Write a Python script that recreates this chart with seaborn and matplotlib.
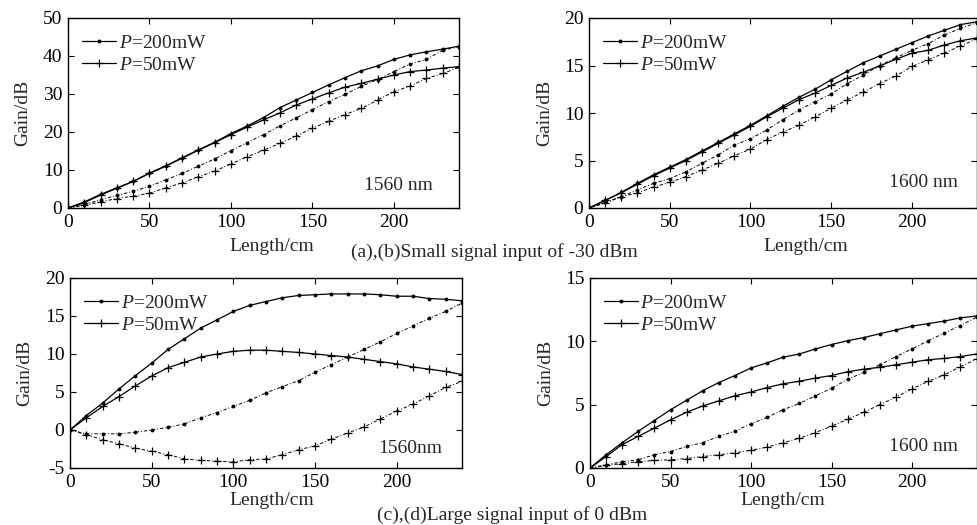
import matplotlib
matplotlib.use("Agg")
import matplotlib.pyplot as plt
import seaborn as sns
import pandas as pd
from matplotlib.lines import Line2D

# ---------------- data ----------------
length_cm = [0, 10, 20, 30, 40, 50, 60, 70, 80, 90, 100, 110, 120,
             130, 140, 150, 160, 170, 180, 190, 200, 210, 220, 230, 240]

# (a) 1560 nm, small signal (-30 dBm)
a_solid_200 = [0, 1.6, 3.6, 5.3, 7.0, 9.2, 11.1, 13.2, 15.3, 17.3, 19.6, 21.6, 23.8,
               26.4, 28.4, 30.4, 32.4, 34.3, 36.1, 37.4, 39.1, 40.3, 41.1, 41.8, 42.6]
a_solid_50 = [0, 1.4, 3.4, 5.2, 7.0, 9.1, 11.0, 13.1, 15.2, 17.2, 19.3, 21.3, 23.2,
              25.0, 27.1, 28.7, 30.3, 31.8, 32.8, 33.9, 35.0, 35.9, 36.3, 36.8, 37.2]
a_dash_200 = [0, 0.9, 2.2, 3.3, 4.4, 5.7, 7.4, 9.1, 11.0, 12.9, 15.1, 17.2, 19.3,
              21.6, 23.7, 25.9, 28.0, 29.9, 32.0, 33.8, 35.9, 37.9, 39.1, 41.5, 42.5]
a_dash_50 = [0, 0.7, 1.6, 2.5, 3.1, 3.9, 5.3, 6.6, 8.2, 9.7, 11.6, 13.5, 15.2,
             17.0, 18.9, 21.0, 22.8, 24.6, 26.2, 28.4, 30.6, 32.1, 34.1, 35.4, 37.0]

# (b) 1600 nm, small signal (-30 dBm)
b_solid_200 = [0, 0.8, 1.65, 2.6, 3.5, 4.3, 5.1, 6.0, 6.9, 7.8, 8.7, 9.7, 10.7,
               11.65, 12.5, 13.5, 14.4, 15.3, 16.0, 16.7, 17.4, 18.1, 18.7, 19.3, 19.6]
b_solid_50 = [0, 0.8, 1.6, 2.5, 3.4, 4.2, 5.0, 5.9, 6.8, 7.7, 8.6, 9.6, 10.5,
              11.4, 12.1, 12.9, 13.7, 14.3, 14.95, 15.65, 16.3, 16.6, 17.15, 17.6, 17.9]
b_dash_200 = [0, 0.6, 1.2, 1.9, 2.6, 3.1, 3.8, 4.7, 5.6, 6.6, 7.3, 8.2, 9.3,
              10.3, 11.2, 12.0, 13.1, 14.0, 15.0, 15.8, 16.6, 17.3, 18.2, 18.9, 19.5]
b_dash_50 = [0, 0.5, 1.2, 1.6, 2.2, 2.7, 3.3, 4.0, 4.7, 5.5, 6.2, 7.2, 8.0,
             8.7, 9.6, 10.5, 11.4, 12.2, 13.1, 13.9, 14.9, 15.6, 16.3, 17.05, 17.8]

# (c) 1560 nm, large signal (0 dBm)
c_solid_200 = [0, 1.9, 3.55, 5.4, 7.15, 8.8, 10.6, 12.0, 13.4, 14.5, 15.6, 16.4, 16.9,
               17.4, 17.7, 17.8, 17.9, 17.9, 17.9, 17.8, 17.6, 17.6, 17.3, 17.2, 17.0]
c_solid_50 = [0, 1.6, 3.1, 4.4, 5.8, 7.1, 8.2, 8.9, 9.6, 10.0, 10.35, 10.5, 10.5,
              10.35, 10.2, 10.0, 9.8, 9.6, 9.3, 9.0, 8.7, 8.3, 8.0, 7.7, 7.3]
c_dash_200 = [0, -0.5, -0.5, -0.5, -0.3, 0.0, 0.35, 0.8, 1.6, 2.3, 3.1, 3.9, 4.9,
              5.7, 6.5, 7.6, 8.6, 9.6, 10.6, 11.6, 12.7, 13.7, 14.7, 15.6, 16.7]
c_dash_50 = [0, -0.6, -1.3, -1.8, -2.4, -2.8, -3.25, -3.8, -4.0, -4.1, -4.2, -3.9, -3.8,
             -3.25, -2.6, -2.1, -1.2, -0.4, 0.4, 1.45, 2.5, 3.4, 4.5, 5.6, 6.4]

# (d) 1600 nm, large signal (0 dBm)
d_solid_200 = [0, 1.05, 2.0, 2.9, 3.75, 4.6, 5.35, 6.1, 6.75, 7.3, 7.9, 8.3, 8.75,
               9.0, 9.4, 9.75, 10.05, 10.3, 10.6, 10.9, 11.2, 11.4, 11.6, 11.85, 12.0]
d_solid_50 = [0, 0.9, 1.85, 2.5, 3.15, 3.8, 4.4, 4.9, 5.3, 5.7, 6.0, 6.35, 6.65,
              6.85, 7.1, 7.3, 7.6, 7.8, 7.95, 8.15, 8.35, 8.55, 8.65, 8.8, 9.0]
d_dash_200 = [0, 0.25, 0.5, 0.65, 1.05, 1.3, 1.7, 2.0, 2.5, 2.9, 3.5, 4.0, 4.6,
              5.1, 5.7, 6.3, 7.0, 7.55, 8.15, 8.8, 9.4, 10.05, 10.65, 11.25, 11.9]
d_dash_50 = [0, 0.2, 0.35, 0.5, 0.6, 0.65, 0.75, 0.9, 1.05, 1.2, 1.4, 1.65, 2.0,
             2.35, 2.8, 3.3, 3.85, 4.4, 5.0, 5.6, 6.25, 6.85, 7.35, 8.0, 8.6]

legend_labels = ["$P$=200mW", "$P$=50mW"]
wavelength_labels = ["1560 nm", "1600 nm", "1560nm", "1600 nm"]
captions = ["(a),(b)Small signal input of -30 dBm", "(c),(d)Large signal input of 0 dBm"]
x_ticks = [0, 50, 100, 150, 200]

# ---------------- style ----------------
sns.set_style("ticks")
plt.rcParams["font.family"] = ["Liberation Serif", "DejaVu Serif"]
plt.rcParams["mathtext.fontset"] = "custom"
plt.rcParams["mathtext.rm"] = "Liberation Serif"
plt.rcParams["mathtext.it"] = "Liberation Serif:italic"
plt.rcParams["axes.unicode_minus"] = False
FS = 14

fig = plt.figure(figsize=(9.77, 5.25), dpi=100)
W, H = 977.0, 525.0

def axes_px(x0, x1, y0, y1):
    return fig.add_axes([x0 / W, 1 - y1 / H, (x1 - x0) / W, (y1 - y0) / H])

ax_a = axes_px(68, 459, 18, 208)
ax_b = axes_px(589, 976.5, 18, 208)
ax_c = axes_px(70, 462, 278, 468)
ax_d = axes_px(590, 976.5, 278, 468)

dash = (0, (3.5, 2.0, 1.0, 2.0))
dot_kw = dict(marker="o", markersize=2.8, markeredgewidth=0,
              markerfacecolor="black", markeredgecolor="black")
plus_kw = dict(marker="+", markersize=6, markeredgewidth=0.9,
               markerfacecolor="black", markeredgecolor="black")

panels = [
    (ax_a, a_solid_200, a_solid_50, a_dash_200, a_dash_50, (0, 50), [0, 10, 20, 30, 40, 50], (203, 6.0), (0.52, -0.16)),
    (ax_b, b_solid_200, b_solid_50, b_dash_200, b_dash_50, (0, 20), [0, 5, 10, 15, 20], (207, 2.7), (0.56, -0.16)),
    (ax_c, c_solid_200, c_solid_50, c_dash_200, c_dash_50, (-5, 20), [-5, 0, 5, 10, 15, 20], (208, -2.4), (0.515, -0.125)),
    (ax_d, d_solid_200, d_solid_50, d_dash_200, d_dash_50, (0, 15), [0, 5, 10, 15], (207, 1.7), (0.5, -0.125)),
]

for i, (ax, s200, s50, d200, d50, ylim, yticks, lblpos, xlab) in enumerate(panels):
    df = pd.DataFrame({"Length": length_cm, "s200": s200, "s50": s50, "d200": d200, "d50": d50})
    sns.lineplot(data=df, x="Length", y="s200", ax=ax, color="black", lw=0.9,
                 estimator=None, **dot_kw)
    sns.lineplot(data=df, x="Length", y="s50", ax=ax, color="black", lw=0.9,
                 estimator=None, **plus_kw)
    sns.lineplot(data=df, x="Length", y="d200", ax=ax, color="black", lw=0.7,
                 linestyle=dash, estimator=None, **dot_kw)
    sns.lineplot(data=df, x="Length", y="d50", ax=ax, color="black", lw=0.7,
                 linestyle=dash, estimator=None, **plus_kw)

    ax.set_xlim(0, 240)
    ax.set_ylim(*ylim)
    ax.set_xticks(x_ticks)
    ax.set_yticks(yticks)
    ax.tick_params(direction="in", length=4, width=0.8, top=True, right=True,
                   labelsize=FS, pad=4, colors="black")
    for sp in ax.spines.values():
        sp.set_linewidth(1.0)
        sp.set_color("black")
        sp.set_visible(True)
    ax.set_xlabel("Length/cm", fontsize=FS)
    ax.set_ylabel("Gain/dB", fontsize=FS)
    ax.xaxis.set_label_coords(*xlab)
    ax.yaxis.set_label_coords(-0.093, 0.5)
    ax.text(lblpos[0], lblpos[1], wavelength_labels[i], fontsize=FS, ha="center", va="center")

    handles = [
        Line2D([], [], color="black", lw=0.9, **dot_kw),
        Line2D([], [], color="black", lw=0.9, **plus_kw),
    ]
    ax.legend(handles, legend_labels, loc="upper left", bbox_to_anchor=(0.035, 0.915),
              frameon=False, fontsize=FS, handlelength=1.75, handletextpad=0.15,
              labelspacing=0.25, borderpad=0, borderaxespad=0, markerscale=1.0)

fig.text(494 / W, 1 - 252 / H, captions[0], fontsize=FS, ha="center", va="center")
fig.text(512 / W, 1 - 515 / H, captions[1], fontsize=FS, ha="center", va="center")

fig.savefig("out.png", dpi=100)
